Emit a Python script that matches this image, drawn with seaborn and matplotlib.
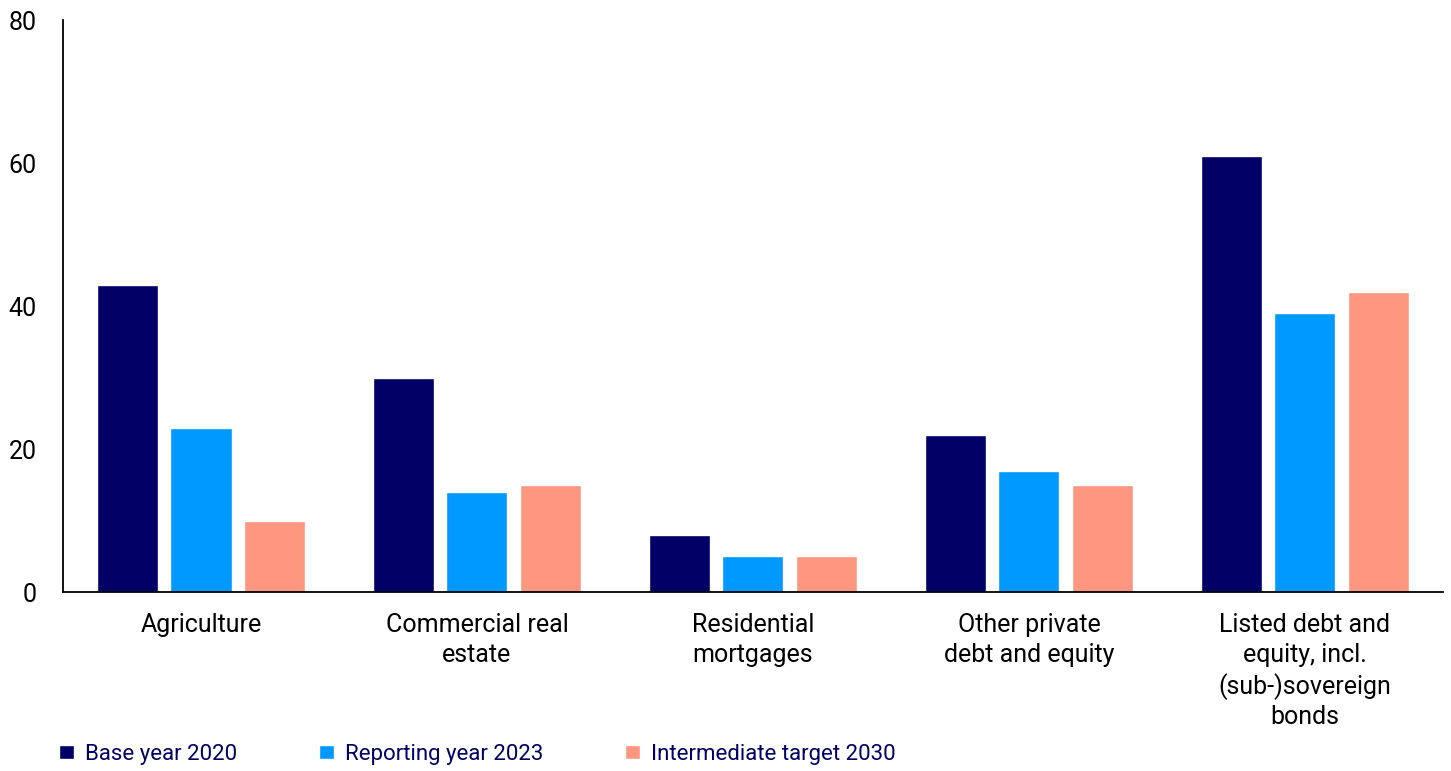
import pandas as pd
import matplotlib.pyplot as plt
import seaborn as sns

# Chart values
categories = ['Agriculture', 'Commercial real\nestate', 'Residential\nmortgages',
              'Other private\ndebt and equity',
              'Listed debt and\nequity, incl.\n(sub-)sovereign\nbonds']
series = ['Base year 2020', 'Reporting year 2023', 'Intermediate target 2030']
base_2020 = [43, 30, 8, 22, 61]
reporting_2023 = [23, 14, 5, 17, 39]
target_2030 = [10, 15, 5, 15, 42]
colors = ['#000066', '#0099FF', '#FF967F']

# Long format for seaborn
rows = []
for s, vals in zip(series, [base_2020, reporting_2023, target_2030]):
    for c, v in zip(categories, vals):
        rows.append({'Category': c, 'Series': s, 'Value': v})
data = pd.DataFrame(rows)

sns.set_style('white')
plt.rcParams['font.family'] = ['Roboto', 'DejaVu Sans']

fig = plt.figure(figsize=(14.51, 7.71), dpi=100)
ax = fig.add_axes([0.0434, 0.232, 0.951, 0.742])

sns.barplot(data=data, x='Category', y='Value', hue='Series',
            palette=colors, width=0.8, gap=0.17, saturation=1, ax=ax)

ax.set_xlim(-0.5, 4.5)
ax.set_ylim(0, 80)
ax.set_yticks([0, 20, 40, 60, 80])
ax.set_xlabel('')
ax.set_ylabel('')
ax.tick_params(axis='both', length=0, labelsize=18, colors='black')
ax.tick_params(axis='y', pad=19)
ax.tick_params(axis='x', pad=15)
for lab in ax.get_xticklabels():
    lab.set_linespacing(1.3)

sns.despine(ax=ax)
for side in ['left', 'bottom']:
    ax.spines[side].set_color('black')
    ax.spines[side].set_linewidth(1.3)

handles, labels = ax.get_legend_handles_labels()
ax.get_legend().remove()
leg = fig.legend(handles, labels, loc='lower left', bbox_to_anchor=(0.027, -0.018),
                 ncol=3, frameon=False, fontsize=16, handlelength=0.65,
                 handleheight=0.65, handletextpad=0.5, columnspacing=3.7)
for t in leg.get_texts():
    t.set_color('#000066')

fig.savefig('out.png', dpi=100)
